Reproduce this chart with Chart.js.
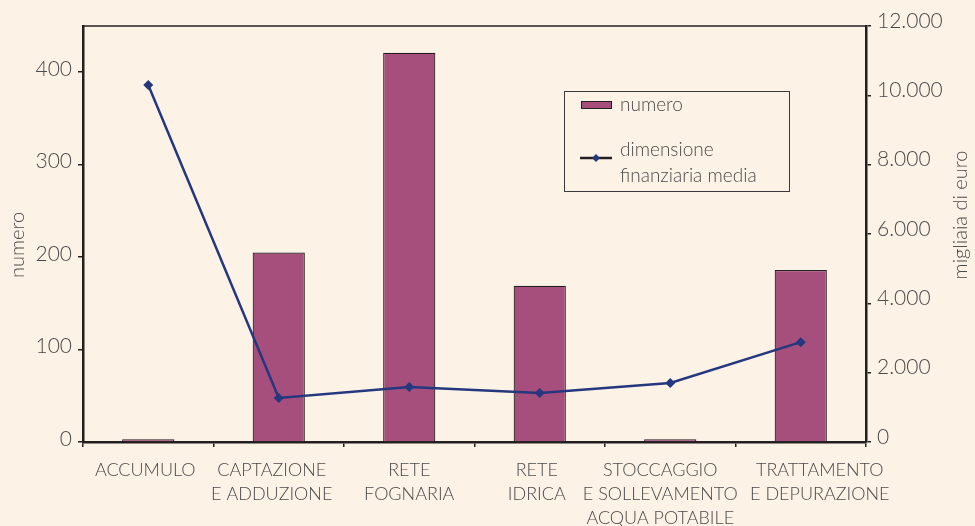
<!DOCTYPE html>
<html>
<head>
<meta charset="utf-8">
<script src="https://cdn.jsdelivr.net/npm/chart.js@4.4.0/dist/chart.umd.min.js"></script>
<style>
  html, body { margin: 0; padding: 0; background: #fdf2e6; }
  #wrap { width: 975px; height: 526px; position: relative; }
</style>
</head>
<body>
<div id="wrap"><canvas id="myChart" width="975" height="526"></canvas></div>
<script>
// categories and values
const categories = [
  ['ACCUMULO'],
  ['CAPTAZIONE', 'E ADDUZIONE'],
  ['RETE', 'FOGNARIA'],
  ['RETE', 'IDRICA'],
  ['STOCCAGGIO', 'E SOLLEVAMENTO', 'ACQUA POTABILE'],
  ['TRATTAMENTO', 'E DEPURAZIONE']
];
const numero = [3, 205, 421, 169, 3, 186];
const dimensioneMedia = [10300, 1270, 1590, 1410, 1700, 2880];

const leftTicks = [0, 100, 200, 300, 400];
const rightTicks = [0, 2000, 4000, 6000, 8000, 10000, 12000];

// the original's category labels are not quite centred under the bars
const labelNudge = [-3, -7, 0, -3, -10, 19];

const FONT = 'Lato, "Open Sans", sans-serif';
const TEXT = '#4a4a4a';
const AXIS = '#231f20';
const BAR = '#a64f7c';
const LINE = '#24377f';

const fmtIt = v => v === 0 ? '0' : String(v).replace(/\B(?=(\d{3})+(?!\d))/g, '.');

// top frame line, axis titles, category labels, boxed legend
const framePlugin = {
  id: 'frame',
  afterDraw(chart) {
    const { ctx, chartArea, scales } = chart;
    ctx.save();
    ctx.strokeStyle = AXIS;
    ctx.lineWidth = 1.5;
    ctx.beginPath();
    ctx.moveTo(chartArea.left, chartArea.top);
    ctx.lineTo(chartArea.right, chartArea.top);
    ctx.stroke();

    ctx.fillStyle = TEXT;
    ctx.textAlign = 'center';
    ctx.textBaseline = 'middle';

    // category labels
    ctx.font = '300 18px ' + FONT;
    chart.data.labels.forEach((lines, i) => {
      const x = scales.x.getPixelForValue(i) + labelNudge[i];
      lines.forEach((t, j) => ctx.fillText(t, x, chartArea.bottom + 28 + j * 24));
    });

    // axis titles
    ctx.font = '300 20px ' + FONT;
    ctx.save();
    ctx.translate(18, 245);
    ctx.rotate(-Math.PI / 2);
    ctx.fillText('numero', 0, 0);
    ctx.restore();
    ctx.save();
    ctx.translate(961, 215);
    ctx.rotate(-Math.PI / 2);
    ctx.fillText('migliaia di euro', 0, 0);
    ctx.restore();

    // legend box
    const bx = 564, by = 91, bw = 225, bh = 100;
    ctx.lineWidth = 1;
    ctx.strokeStyle = '#3a3a3a';
    ctx.strokeRect(bx + 0.5, by + 0.5, bw, bh);

    const barDs = chart.data.datasets.find(d => d.type === 'bar');
    const lineDs = chart.data.datasets.find(d => d.type === 'line');
    ctx.font = '300 19px ' + FONT;
    ctx.textAlign = 'left';

    ctx.fillStyle = BAR;
    ctx.fillRect(581, 101, 31, 8);
    ctx.strokeStyle = AXIS;
    ctx.strokeRect(581.5, 101.5, 30, 7);
    ctx.fillStyle = TEXT;
    ctx.fillText(barDs.label, 620, 105);

    ctx.strokeStyle = AXIS;
    ctx.lineWidth = 2.5;
    ctx.beginPath();
    ctx.moveTo(580, 158);
    ctx.lineTo(612, 158);
    ctx.stroke();
    ctx.fillStyle = LINE;
    ctx.beginPath();
    ctx.moveTo(596, 154); ctx.lineTo(600, 158); ctx.lineTo(596, 162); ctx.lineTo(592, 158);
    ctx.closePath();
    ctx.fill();
    ctx.fillStyle = TEXT;
    lineDs.legendLines.forEach((t, i) => ctx.fillText(t, 620, 150 + i * 26));
    ctx.restore();
  }
};

new Chart(document.getElementById('myChart').getContext('2d'), {
  data: {
    labels: categories,
    datasets: [
      {
        type: 'line',
        label: 'dimensione finanziaria media',
        legendLines: ['dimensione', 'finanziaria media'],
        data: dimensioneMedia,
        yAxisID: 'y1',
        borderColor: LINE,
        backgroundColor: LINE,
        borderWidth: 2.5,
        pointStyle: 'rectRot',
        pointRadius: 5,
        pointBorderWidth: 0,
        tension: 0,
        order: 0
      },
      {
        type: 'bar',
        label: 'numero',
        data: numero,
        yAxisID: 'y',
        backgroundColor: BAR,
        borderColor: AXIS,
        borderWidth: 1.2,
        barPercentage: 0.4,
        categoryPercentage: 1,
        order: 1
      }
    ]
  },
  plugins: [framePlugin],
  options: {
    responsive: false,
    animation: false,
    layout: { padding: { top: 26, left: 0, right: 0, bottom: 0 } },
    plugins: { legend: { display: false }, tooltip: { enabled: false } },
    scales: {
      x: {
        offset: true,
        grid: { offset: true, drawOnChartArea: false, drawTicks: true, tickLength: 5, color: AXIS, lineWidth: 1.5 },
        border: { color: AXIS, width: 2.5 },
        ticks: { color: 'rgba(0,0,0,0)', font: { family: FONT, size: 10 }, maxRotation: 0, autoSkip: false },
        afterFit(s) { s.height = 84; }
      },
      y: {
        position: 'left',
        min: 0, max: 450,
        afterBuildTicks(s) { s.ticks = leftTicks.map(v => ({ value: v })); },
        grid: { drawOnChartArea: false, tickLength: 5, color: AXIS, lineWidth: 1.5 },
        border: { color: AXIS, width: 2.5 },
        ticks: { color: TEXT, font: { family: FONT, size: 21, weight: 300 }, padding: 6, labelOffset: -3 },
        afterFit(s) { s.width = 83; }
      },
      y1: {
        position: 'right',
        min: 0, max: 12000,
        afterBuildTicks(s) { s.ticks = rightTicks.map(v => ({ value: v })); },
        grid: { drawOnChartArea: false, tickLength: 5, color: AXIS, lineWidth: 1.5 },
        border: { color: AXIS, width: 2.5 },
        ticks: { color: TEXT, font: { family: FONT, size: 21, weight: 300 }, padding: 6, labelOffset: -5, callback: v => fmtIt(v) },
        afterFit(s) { s.width = 109; }
      }
    }
  }
});
</script>
</body>
</html>
